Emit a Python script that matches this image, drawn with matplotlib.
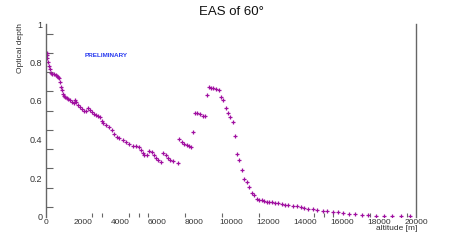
import matplotlib
matplotlib.use("Agg")
import matplotlib.pyplot as plt
import numpy as np

plt.rcParams['font.family'] = ['Liberation Sans', 'DejaVu Sans']

# Data: altitude [m] vs optical depth
altitude = [30, 54, 81, 108, 162, 216, 270, 324, 432, 541, 595, 649, 703, 757, 811, 865, 919, 973,
            1027, 1135, 1189, 1297, 1405, 1514, 1568, 1622, 1730, 1838, 1946, 2054, 2162, 2270, 2378,
            2486, 2595, 2703, 2811, 2919, 3027, 3081, 3243, 3405, 3568, 3676, 3838, 3946, 4162, 4324,
            4486, 4703, 4865, 5027, 5135, 5243, 5297, 5459, 5568, 5730, 5838, 5946, 6054, 6216, 6324,
            6486, 6595, 6703, 6865, 7135,
            7189, 7351, 7459, 7622, 7730, 7838,
            7946,
            8054, 8162, 8324, 8486, 8595,
            8703,
            8811, 8919, 9027, 9189, 9351,
            9459, 9568, 9730, 9838, 9946, 10108, 10216, 10324, 10432, 10595, 10703, 10865, 10973,
            11135, 11243,
            11389, 11530, 11659, 11784, 11930, 12070, 12232, 12378, 12557, 12741, 12919, 13097, 13335,
            13551, 13768, 13946, 14178, 14416, 14665, 14957, 15205, 15497, 15800, 16070, 16395, 16703,
            17065, 17422, 17822, 18270, 18719, 19173, 19676]
depth = [0.849, 0.839, 0.823, 0.803, 0.782, 0.766, 0.745, 0.740, 0.740, 0.735, 0.730, 0.725, 0.719,
         0.699, 0.673, 0.657, 0.636, 0.626, 0.621, 0.616, 0.610, 0.605, 0.595, 0.590, 0.605, 0.595,
         0.579, 0.569, 0.558, 0.548, 0.548, 0.564, 0.553, 0.543, 0.532, 0.527, 0.522, 0.517, 0.496,
         0.486, 0.475, 0.465, 0.449, 0.429, 0.413, 0.408, 0.397, 0.387, 0.377, 0.366, 0.366, 0.361,
         0.345, 0.330, 0.319, 0.319, 0.340, 0.335, 0.319, 0.304, 0.294, 0.283, 0.330, 0.319, 0.304,
         0.294, 0.288, 0.278,
         0.403, 0.387, 0.377, 0.371, 0.366, 0.361,
         0.439,
         0.538, 0.538, 0.532, 0.522, 0.522,
         0.631,
         0.673, 0.668, 0.668, 0.662, 0.657,
         0.621, 0.605, 0.564, 0.538, 0.517, 0.491, 0.418, 0.325, 0.294, 0.242, 0.195, 0.179, 0.153,
         0.122, 0.112,
         0.089, 0.086, 0.084, 0.081, 0.077, 0.075, 0.074, 0.072, 0.070, 0.066, 0.061, 0.060, 0.056,
         0.053, 0.049, 0.044, 0.041, 0.037, 0.034, 0.030, 0.027, 0.023, 0.022, 0.018, 0.015, 0.011,
         0.008, 0.006, 0.005, 0.004, 0.004, 0.003, 0.003]

x_major = [0, 2000, 4000, 6000, 8000, 10000, 12000, 14000, 16000, 18000, 20000]
x_minor = [2000, 2500, 3000, 4500, 5000, 5500, 7500, 9500, 11500, 14500, 15000, 15500, 17500, 19500]
y_major = [0, 0.2, 0.4, 0.6, 0.8, 1.0]
y_labels = ["0", "0.2", "0.4", "0.6", "0.8", "1"]
y_minor = [0.05, 0.15, 0.25, 0.35, 0.45, 0.55, 0.65, 0.75, 0.85, 0.95]

W, H = 463, 241
fig = plt.figure(figsize=(W / 100, H / 100), dpi=100)
ax = fig.add_axes([46 / W, 24.5 / H, 370 / W, 192.5 / H])

ax.plot(altitude, depth, linestyle='none', marker='+', markersize=2.3,
        markeredgewidth=0.9, color='#a010a0')

ax.set_xlim(0, 20000)
ax.set_ylim(0, 1)

for s in ['top', 'bottom']:
    ax.spines[s].set_visible(False)
for s in ['left', 'right']:
    ax.spines[s].set_color('#666666')
    ax.spines[s].set_linewidth(1.0)

ax.set_xticks(x_major)
ax.set_xticklabels([str(v) for v in x_major])
ax.set_xticks(x_minor, minor=True)
ax.set_yticks(y_major)
ax.set_yticklabels(y_labels)
ax.set_yticks(y_minor, minor=True)

ax.tick_params(axis='x', which='major', length=0, pad=1.5, labelsize=6, labelcolor='#333333')
ax.tick_params(axis='x', which='minor', direction='in', length=3, width=0.8, color='#666666')
ax.tick_params(axis='y', which='major', length=0, pad=2.5, labelsize=6.5, labelcolor='#333333')
ax.tick_params(axis='y', which='minor', direction='in', length=5, width=0.8, color='#666666')

fig.text(231 / W, 1 - 12 / H, "EAS of 60°", ha='center', va='center', fontsize=9.5, color='#111111')
fig.text(20 / W, 1 - 23 / H, "Optical depth", rotation=90, ha='center', va='top',
         fontsize=6, color='#333333')
fig.text(417 / W, 1 - 229 / H, "altitude [m]", ha='right', va='center', fontsize=6, color='#333333')
ax.text(0.105, 0.834, "PRELIMINARY", transform=ax.transAxes, ha='left', va='center',
        fontsize=4.6, fontweight='bold', color='#2a3cf0')

fig.savefig("out.png", dpi=100)
